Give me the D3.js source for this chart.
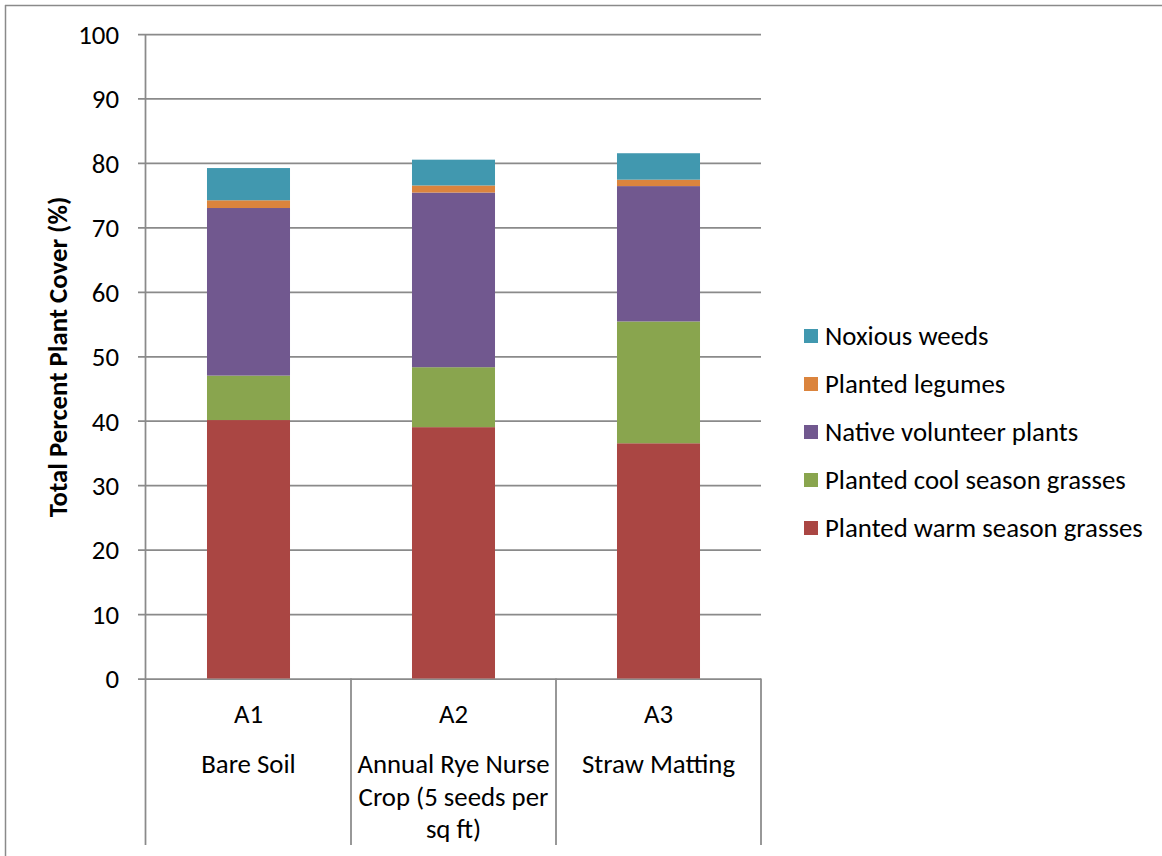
<!DOCTYPE html>
<html>
<head>
<meta charset="utf-8">
<script src="https://cdn.jsdelivr.net/npm/d3@7"></script>
<style>
  html, body { margin: 0; padding: 0; background: #fff; }
  svg { display: block; }
  text { font-family: Carlito, "Open Sans", sans-serif; fill: #000; }
</style>
</head>
<body>
<svg id="chart" width="1162" height="856"></svg>
<script>
// ---- data ----
const categories = ["A1", "A2", "A3"];
const categoryLabels = [
  ["A1", "Bare Soil"],
  ["A2", "Annual Rye Nurse", "Crop (5 seeds per", "sq ft)"],
  ["A3", "Straw Matting"]
];
const seriesNames = [
  "Planted warm season grasses",
  "Planted cool season grasses",
  "Native volunteer plants",
  "Planted legumes",
  "Noxious weeds"
];
const warmGrasses   = [40.1, 39.0, 36.5];
const coolGrasses   = [6.9, 9.3, 18.9];
const nativePlants  = [26.0, 27.1, 21.0];
const legumes       = [1.2, 1.1, 1.0];
const noxiousWeeds  = [5.0, 4.0, 4.1];
const yTicks = [0, 10, 20, 30, 40, 50, 60, 70, 80, 90, 100];
const yTitle = "Total Percent Plant Cover (%)";

const seriesColors = ["#AA4643", "#89A54E", "#71588F", "#DB843D", "#4198AF"];
const seriesValues = [warmGrasses, coolGrasses, nativePlants, legumes, noxiousWeeds];

// ---- build table ----
const table = categories.map((c, i) => {
  const row = { cat: c };
  seriesNames.forEach((s, j) => row[s] = seriesValues[j][i]);
  return row;
});
const stacked = d3.stack().keys(seriesNames)(table);

// ---- layout ----
const svg = d3.select("#chart");
const plotLeft = 146, plotRight = 761, plotTop = 34, plotBase = 678.5, plotBottom = 845;
const gridColor = "#8a8a8a";
const fontSize = 26.8;

const y = d3.scaleLinear().domain([0, 100]).range([plotBase, plotTop]);
const xCat = d3.scaleBand().domain(categories).range([plotLeft, plotRight]);
const xBar = d3.scaleBand().domain(categories).range([plotLeft, plotRight])
  .paddingInner(0.595).paddingOuter(0.2975);
const color = d3.scaleOrdinal().domain(seriesNames).range(seriesColors);

// frame
svg.append("line").attr("x1", 5).attr("x2", 1162).attr("y1", 5.5).attr("y2", 5.5)
  .attr("stroke", gridColor).attr("stroke-width", 1.5);
svg.append("line").attr("x1", 5.5).attr("x2", 5.5).attr("y1", 5).attr("y2", 856)
  .attr("stroke", gridColor).attr("stroke-width", 1.5);

// gridlines + y axis (ticks extend 8px left of the axis)
const yAxis = d3.axisLeft(y).tickValues(yTicks)
  .tickSizeInner(-(plotRight - plotLeft)).tickSizeOuter(0)
  .tickPadding(0).tickFormat(d3.format("d"));
const gy = svg.append("g").attr("transform", `translate(${plotLeft},0)`).call(yAxis);
gy.select(".domain").remove();
gy.selectAll(".tick line")
  .attr("x1", -8).attr("x2", plotRight - plotLeft)
  .attr("stroke", gridColor).attr("stroke-width", 1.75);
gy.selectAll(".tick text")
  .attr("x", -27)
  .attr("dy", "0.35em")
  .attr("text-anchor", "end")
  .style("font-size", fontSize + "px")
  .style("font-family", 'Carlito, "Open Sans", sans-serif')
  .attr("fill", "#000");

// axis vertical line
svg.append("line").attr("x1", plotLeft - 0.5).attr("x2", plotLeft - 0.5)
  .attr("y1", plotTop).attr("y2", plotBottom)
  .attr("stroke", gridColor).attr("stroke-width", 1.75);

// category dividers
svg.append("g").selectAll("line").data(categories)
  .join("line")
  .attr("x1", d => xCat(d) + xCat.bandwidth())
  .attr("x2", d => xCat(d) + xCat.bandwidth())
  .attr("y1", plotBase).attr("y2", plotBottom)
  .attr("stroke", gridColor).attr("stroke-width", 1.75);

// bars
svg.append("g").selectAll("g").data(stacked).join("g")
  .attr("fill", d => color(d.key))
  .selectAll("rect").data(d => d).join("rect")
  .attr("x", d => xBar(d.data.cat))
  .attr("width", xBar.bandwidth())
  .attr("y", d => y(d[1]))
  .attr("height", d => y(d[0]) - y(d[1]));

// category labels
const lineYs = [714, 764, 797, 829];
const cl = svg.append("g").selectAll("text").data(categories).join("text")
  .attr("text-anchor", "middle")
  .style("font-size", fontSize + "px");
cl.each(function (d, i) {
  const t = d3.select(this);
  const cx = xCat(d) + xCat.bandwidth() / 2;
  categoryLabels[i].forEach((s, k) => {
    t.append("tspan").attr("x", cx).attr("y", lineYs[k]).attr("dy", "0.35em").text(s);
  });
});

// y title
svg.append("text")
  .attr("transform", "translate(58,357) rotate(-90)")
  .attr("text-anchor", "middle")
  .attr("dy", "0.35em")
  .style("font-size", "26.8px")
  .style("font-weight", "bold")
  .text(yTitle);

// legend (reverse order)
const legendItems = seriesNames.slice().reverse();
const lg = svg.append("g").selectAll("g").data(legendItems).join("g")
  .attr("transform", (d, i) => `translate(804,${336 + i * 48})`);
lg.append("rect").attr("x", 0).attr("y", -7).attr("width", 14).attr("height", 14)
  .attr("fill", d => color(d));
lg.append("text").attr("x", 21).attr("dy", "0.35em")
  .style("font-size", fontSize + "px").text(d => d);
</script>
</body>
</html>
